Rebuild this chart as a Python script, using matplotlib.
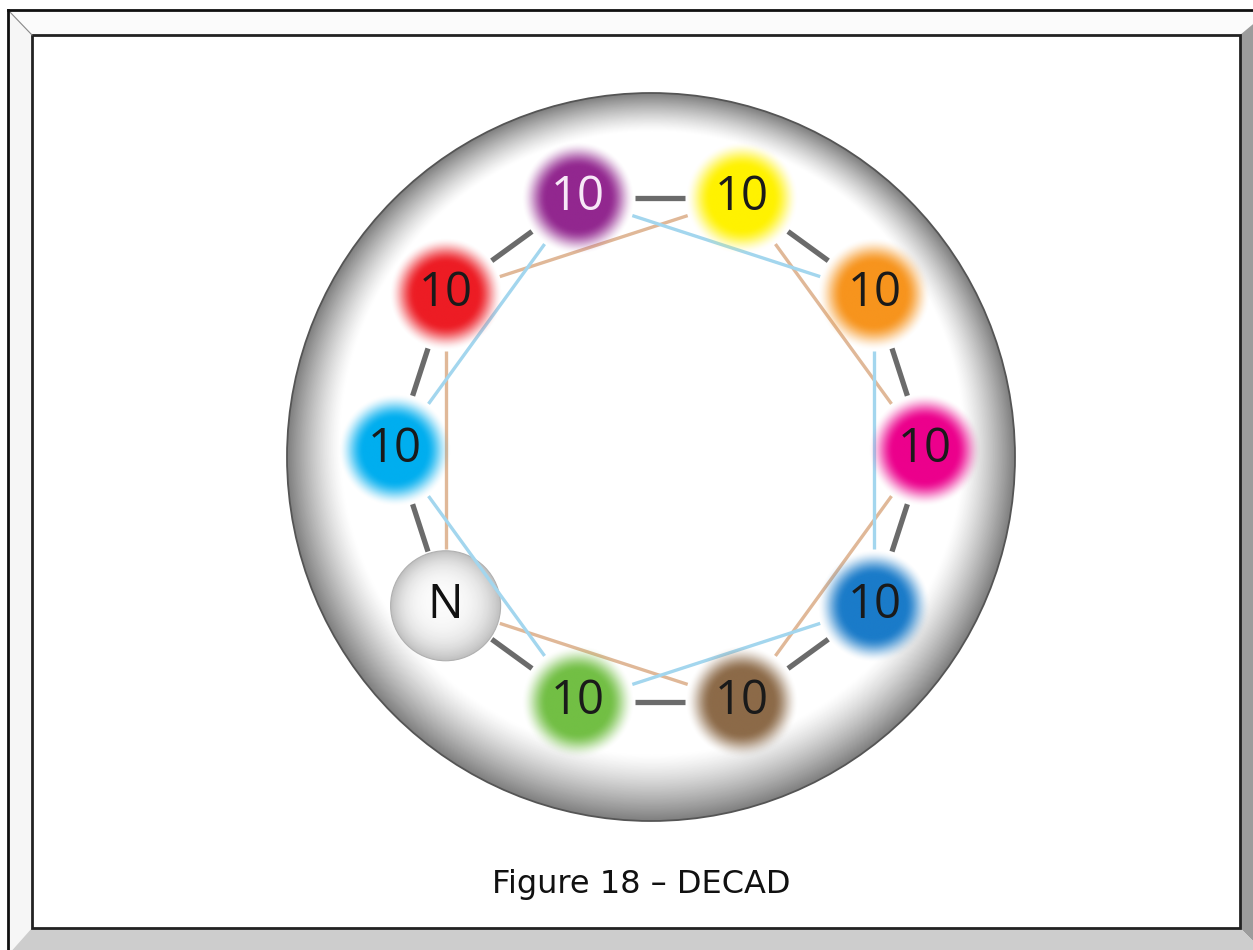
import numpy as np
import matplotlib.pyplot as plt
from matplotlib.patches import Circle, Polygon
from matplotlib.colors import to_rgb

# ring members, counter-clockwise from the right-hand node
labels = ['10', '10', '10', '10', '10', '10', 'N', '10', '10', '10']
angles = [0, 36, 72, 108, 144, 180, 216, 252, 288, 324]
node_colors = ['#ec008c', '#f7941d', '#fff200', '#92278f', '#ed1c24',
               '#00aeef', '#ffffff', '#72bf44', '#8c6a48', '#1a7bc9']
text_colors = ['#1a1a1a', '#1a1a1a', '#1a1a1a', '#f7e8f7', '#1a1a1a',
               '#1a1a1a', '#111111', '#1a1a1a', '#1a1a1a', '#1a1a1a']
tan_cycle = [4, 2, 0, 8, 6]      # red, yellow, magenta, brown, N
blue_cycle = [3, 1, 9, 7, 5]     # purple, orange, dark blue, green, light blue
caption = 'Figure 18 \u2013 DECAD'

W, H = 1253, 950
fig = plt.figure(figsize=(W / 100, H / 100), dpi=100)
ax = fig.add_axes([0, 0, 1, 1])
ax.axis('off')

# bevelled frame
ax.add_patch(Polygon([(8, 10), (1270, 10), (1240, 35), (32, 35)], closed=True, fc='#fbfbfb', ec='none'))
ax.add_patch(Polygon([(8, 10), (32, 35), (32, 928), (8, 955)], closed=True, fc='#f6f6f6', ec='none'))
ax.add_patch(Polygon([(1270, 10), (1240, 35), (1240, 928), (1270, 958)], closed=True, fc='#9c9c9c', ec='none'))
ax.add_patch(Polygon([(8, 955), (32, 928), (1240, 928), (1270, 958)], closed=True, fc='#cdcdcd', ec='none'))
ax.plot([8, 32], [10, 35], color='#888888', lw=0.8)
ax.plot([8, 1270], [10, 10], color='#111111', lw=2)
ax.plot([8, 8], [10, 955], color='#111111', lw=2)
ax.add_patch(plt.Rectangle((32, 35), 1208, 893, fc='white', ec='#222222', lw=2))

# big shaded disc: concentric circles drifting from rim centre to inner centre
c_out = np.array([651.0, 457.0])
c_in = np.array([652.0, 443.0])
r_out, r_in = 364.0, 312.0
steps = 80
for i in range(steps + 1):
    s = i / steps
    r = r_out + (r_in - r_out) * s
    c = c_out + (c_in - c_out) * s
    g = 1 - 0.50 * (1 - s) ** 1.25
    ax.add_patch(Circle(c, r, fc=(g, g, g), ec='none'))
ax.add_patch(Circle(c_out, r_out, fc='none', ec='#555555', lw=1.3))

# node positions
cx, cy, ring_r = 660.0, 450.0, 265.0
th = np.radians(angles)
xs = cx + ring_r * np.cos(th)
ys = cy - ring_r * np.sin(th)
gap = 57


def segment(i, j, **kw):
    p = np.array([xs[i], ys[i]])
    q = np.array([xs[j], ys[j]])
    d = (q - p) / np.linalg.norm(q - p)
    a = p + d * gap
    b = q - d * gap
    ax.plot([a[0], b[0]], [a[1], b[1]], solid_capstyle='butt', **kw)


n = len(labels)
for i in range(n):
    segment(i, (i + 1) % n, color='#6b6b6b', lw=3.8)
for k in range(len(tan_cycle)):
    segment(tan_cycle[k], tan_cycle[(k + 1) % len(tan_cycle)], color='#e0b898', lw=2.4)
for k in range(len(blue_cycle)):
    segment(blue_cycle[k], blue_cycle[(k + 1) % len(blue_cycle)], color='#a3d6ee', lw=2.4)

# glowing nodes: solid core fading to transparent
r_glow, r_core = 57.0, 31.0
grid = np.linspace(-r_glow, r_glow, 160)
gx, gy = np.meshgrid(grid, grid)
rr = np.hypot(gx, gy)
u = np.clip((r_glow - rr) / (r_glow - r_core), 0, 1)
glow_alpha = u * u * (3 - 2 * u)

for i in range(n):
    col = np.array(to_rgb(node_colors[i]))
    if labels[i] == 'N':
        for r in np.linspace(55, 0, 45):
            t = (r / 55) ** 3
            g = 0.985 - 0.23 * t
            off = -6 * (1 - r / 55)
            ax.add_patch(Circle((xs[i] + off, ys[i] + off), r, fc=(g, g, g), ec='none'))
        ax.add_patch(Circle((xs[i], ys[i]), 55, fc='none', ec='#b0b0b0', lw=0.8))
    else:
        img = np.zeros(gx.shape + (4,))
        img[..., :3] = col
        img[..., 3] = glow_alpha
        ax.imshow(img, extent=(xs[i] - r_glow, xs[i] + r_glow, ys[i] + r_glow, ys[i] - r_glow),
                  interpolation='bilinear', zorder=3)
    ax.text(xs[i], ys[i] - 1, labels[i], ha='center', va='center', fontsize=34,
            family=['Open Sans', 'DejaVu Sans'], color=text_colors[i], zorder=4)

ax.text(641, 884, caption, ha='center', va='center', fontsize=23,
        family='DejaVu Sans', color='#111111')

ax.set_xlim(0, W)
ax.set_ylim(H, 0)
ax.set_aspect('auto')
fig.savefig('out.png', dpi=100)
